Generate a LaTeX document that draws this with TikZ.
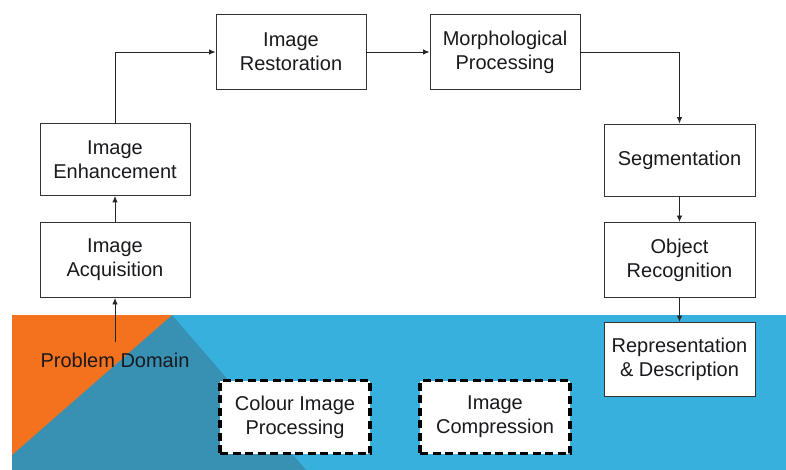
\documentclass[tikz,border=0pt]{standalone}
\usepackage{fontspec}
\setmainfont{Liberation Sans}
\usetikzlibrary{arrows.meta}
\definecolor{bandorange}{RGB}{244,113,30}
\definecolor{bandblue}{RGB}{55,176,222}
\definecolor{bandteal}{RGB}{56,144,178}
\definecolor{txt}{RGB}{25,25,30}
\tikzset{
  procbox/.style={draw=black!80, line width=0.9pt, fill=white, align=center,
    text=txt, font=\fontsize{20}{24}\selectfont, inner sep=0pt},
  dashbox/.style={procbox, draw=black, line width=3.2pt, dash pattern=on 8pt off 4.5pt},
  flow/.style={draw=black!85, line width=0.9pt, -{Latex[length=6.5pt,width=5.5pt]}},
}
\begin{document}
\begin{tikzpicture}[x=1pt,y=-1pt]
\useasboundingbox (0,0) rectangle (786,470);
\fill[white] (0,0) rectangle (786,470);
% background band
\fill[bandblue] (12,315) rectangle (786,470);
\fill[bandteal] (12,315) -- (172,315) -- (306,470) -- (12,470) -- cycle;
\fill[bandorange] (12,315) -- (172,315) -- (12,455) -- cycle;
% nodes
\node[procbox, minimum width=150pt, minimum height=75pt] (acq) at (115,260) {Image\\Acquisition};
\node[procbox, minimum width=150pt, minimum height=72pt] (enh) at (115,159.5) {Image\\Enhancement};
\node[procbox, minimum width=150pt, minimum height=75pt] (res) at (291,52) {Image\\Restoration};
\node[procbox, minimum width=150pt, minimum height=75pt] (mor) at (505,52) {Morphological\\Processing};
\node[procbox, minimum width=151pt, minimum height=72pt] (seg) at (679.5,160) {Segmentation};
\node[procbox, minimum width=151pt, minimum height=75pt] (obj) at (679.5,260) {Object\\Recognition};
\node[procbox, minimum width=151pt, minimum height=74pt] (rep) at (679.5,359.5) {Representation\\\& Description};
\node[dashbox, minimum width=150pt, minimum height=73pt] (col) at (295,417) {Colour Image\\Processing};
\node[dashbox, minimum width=150pt, minimum height=73pt] (cmp) at (495,417) {Image\\Compression};
\node[text=txt, font=\fontsize{20}{24}\selectfont, inner sep=0pt] (pd) at (115,360) {Problem Domain};
\coordinate (pdtop) at (115,342);
\coordinate (c1) at (115,52);
\coordinate (c2) at (679.5,52);
% connectors
\draw[flow] (pdtop) -- (acq.south);
\draw[flow] (acq.north) -- (enh.south);
\draw[flow] (enh.north) -- (c1) -- (res.west);
\draw[flow] (res.east) -- (mor.west);
\draw[flow] (mor.east) -- (c2) -- (seg.north);
\draw[flow] (seg.south) -- (obj.north);
\draw[flow] (obj.south) -- (rep.north);
\end{tikzpicture}
\end{document}
